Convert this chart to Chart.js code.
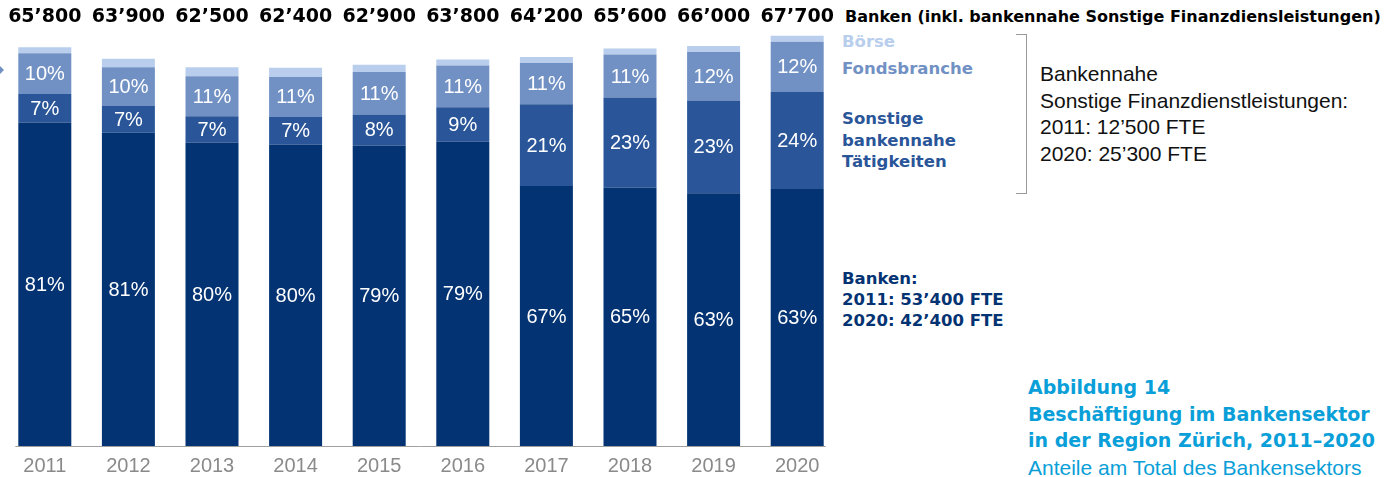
<!DOCTYPE html>
<html lang="de">
<head>
<meta charset="utf-8">
<title>Beschäftigung im Bankensektor</title>
<script src="https://cdn.jsdelivr.net/npm/chart.js@4"></script>
<style>
  html, body { margin: 0; padding: 0; background: #fff; }
  #page { position: relative; width: 1400px; height: 477px; overflow: hidden; }
  #chartBox { position: absolute; left: 0; top: 0; width: 840px; height: 486px; }
  .txt { position: absolute; white-space: nowrap; }
  .heavy { font-family: "DejaVu Sans", sans-serif; font-weight: bold; }
  .light { font-family: "Liberation Sans", Arial, sans-serif; }
  #bracket { position: absolute; left: 1016px; top: 34px; width: 10px; height: 158px;
             border: 1px solid #9a9a9a; border-left: none; }
  #arrow { position: absolute; left: 0; top: 66px; width: 0; height: 0;
           border-top: 4px solid transparent; border-bottom: 4px solid transparent;
           border-left: 4px solid #7191c4; }
</style>
</head>
<body>
<div id="page">
  <div id="chartBox"><canvas id="chart"></canvas></div>
  <div id="arrow"></div>

  <div class="txt heavy" style="left:845px; top:7px; font-size:16px; line-height:20px; color:#000;">Banken (inkl. bankennahe Sonstige Finanzdiensleistungen)</div>
  <div class="txt heavy" style="left:842px; top:31px; font-size:16.5px; line-height:22px; color:#b8ceec;">Börse</div>
  <div class="txt heavy" style="left:842px; top:58px; font-size:16.5px; line-height:22px; color:#7191c4;">Fondsbranche</div>
  <div class="txt heavy" style="left:842px; top:108px; font-size:16.5px; line-height:21.5px; color:#2a5699;">Sonstige<br>bankennahe<br>Tätigkeiten</div>

  <div id="bracket"></div>
  <div class="txt light" style="left:1040px; top:61px; font-size:21px; line-height:26.7px; color:#111;">Bankennahe<br>Sonstige Finanzdienstleistungen:<br>2011: 12’500 FTE<br>2020: 25’300 FTE</div>

  <div class="txt heavy" style="left:842px; top:268px; font-size:16.5px; line-height:21px; color:#033372;">Banken:<br>2011: 53’400 FTE<br>2020: 42’400 FTE</div>

  <div class="txt heavy" style="left:1028px; top:374px; font-size:19px; line-height:26.7px; color:#0a9fd8;">Abbildung 14<br>Beschäftigung im Bankensektor<br>in der Region Zürich, 2011–2020</div>
  <div class="txt light" style="left:1028px; top:455px; font-size:21px; line-height:26.7px; color:#0a9fd8;">Anteile am Total des Bankensektors</div>
</div>

<script>
// Datos (FTE)
const years = ['2011', '2012', '2013', '2014', '2015', '2016', '2017', '2018', '2019', '2020'];
const totals = [65800, 63900, 62500, 62400, 62900, 63800, 64200, 65600, 66000, 67700];
const banken = [53400, 51700, 50100, 49700, 49600, 50200, 42900, 42600, 41700, 42400];
const sonstige = [4700, 4400, 4300, 4600, 5100, 5700, 13500, 14900, 15300, 16000];
const fonds = [6700, 6400, 6600, 6600, 7000, 6900, 6800, 7100, 8000, 8300];
const boerse = [1000, 1400, 1500, 1500, 1200, 1000, 1000, 1000, 1000, 1000];

// Etiquetas de porcentaje tal como aparecen
const pctBanken = ['81%', '81%', '80%', '80%', '79%', '79%', '67%', '65%', '63%', '63%'];
const pctSonstige = ['7%', '7%', '7%', '7%', '8%', '9%', '21%', '23%', '23%', '24%'];
const pctFonds = ['10%', '10%', '11%', '11%', '11%', '11%', '11%', '11%', '12%', '12%'];

const COLORS = {
    banken: '#033372',
    sonstige: '#2a5699',
    fonds: '#7191c4',
    boerse: '#b8ceec'
};

// Formato 65’800
function formatFTE(value) {
    const s = String(value);
    return s.slice(0, s.length - 3) + '’' + s.slice(s.length - 3);
}

// Plugin para las etiquetas, los totales y la línea base
const labelPlugin = {
    id: 'barLabels',
    afterDatasetsDraw(chart) {
        const ctx = chart.ctx;
        ctx.save();
        ctx.textAlign = 'center';
        ctx.textBaseline = 'middle';

        // Porcentajes dentro de los segmentos
        ctx.font = '20px "Liberation Sans", Arial, sans-serif';
        ctx.fillStyle = '#ffffff';
        [pctBanken, pctSonstige, pctFonds].forEach((labels, di) => {
            chart.getDatasetMeta(di).data.forEach((bar, i) => {
                const mid = (bar.y + bar.base) / 2;
                ctx.fillText(labels[i], bar.x, mid + 1);
            });
        });

        // Totales arriba
        const meta = chart.getDatasetMeta(0);
        ctx.font = 'bold 19px "DejaVu Sans", sans-serif';
        ctx.fillStyle = '#000000';
        meta.data.forEach((bar, i) => {
            ctx.fillText(formatFTE(totals[i]), bar.x, 17);
        });

        // Línea del eje x
        const first = meta.data[0];
        const last = meta.data[meta.data.length - 1];
        const y = Math.round(chart.scales.y.getPixelForValue(0)) + 0.5;
        ctx.strokeStyle = '#a0a0a0';
        ctx.lineWidth = 1;
        ctx.beginPath();
        ctx.moveTo(first.x - first.width / 2 - 3, y);
        ctx.lineTo(last.x + last.width / 2 + 2, y);
        ctx.stroke();
        ctx.restore();
    }
};

const datasets = [
    { label: 'Banken', data: banken, backgroundColor: COLORS.banken },
    { label: 'Sonstige bankennahe Tätigkeiten', data: sonstige, backgroundColor: COLORS.sonstige },
    { label: 'Fondsbranche', data: fonds, backgroundColor: COLORS.fonds },
    { label: 'Börse', data: boerse, backgroundColor: COLORS.boerse }
].map(ds => Object.assign(ds, {
    borderWidth: 0,
    barPercentage: 0.634,
    categoryPercentage: 1.0
}));

new Chart(document.getElementById('chart'), {
    type: 'bar',
    data: {
        labels: years,
        datasets: datasets
    },
    options: {
        responsive: true,
        maintainAspectRatio: false,
        animation: false,
        layout: {
            padding: { left: 3, right: 1, top: 0, bottom: 0 }
        },
        scales: {
            x: {
                stacked: true,
                grid: { display: false, drawTicks: false },
                border: { display: false },
                ticks: {
                    color: '#8a8a8a',
                    padding: 8,
                    font: { family: '"Liberation Sans", Arial, sans-serif', size: 20 }
                }
            },
            y: {
                stacked: true,
                display: false,
                min: 0,
                max: 73600
            }
        },
        plugins: {
            legend: { display: false },
            tooltip: { enabled: false }
        }
    },
    plugins: [labelPlugin]
});
</script>
</body>
</html>
